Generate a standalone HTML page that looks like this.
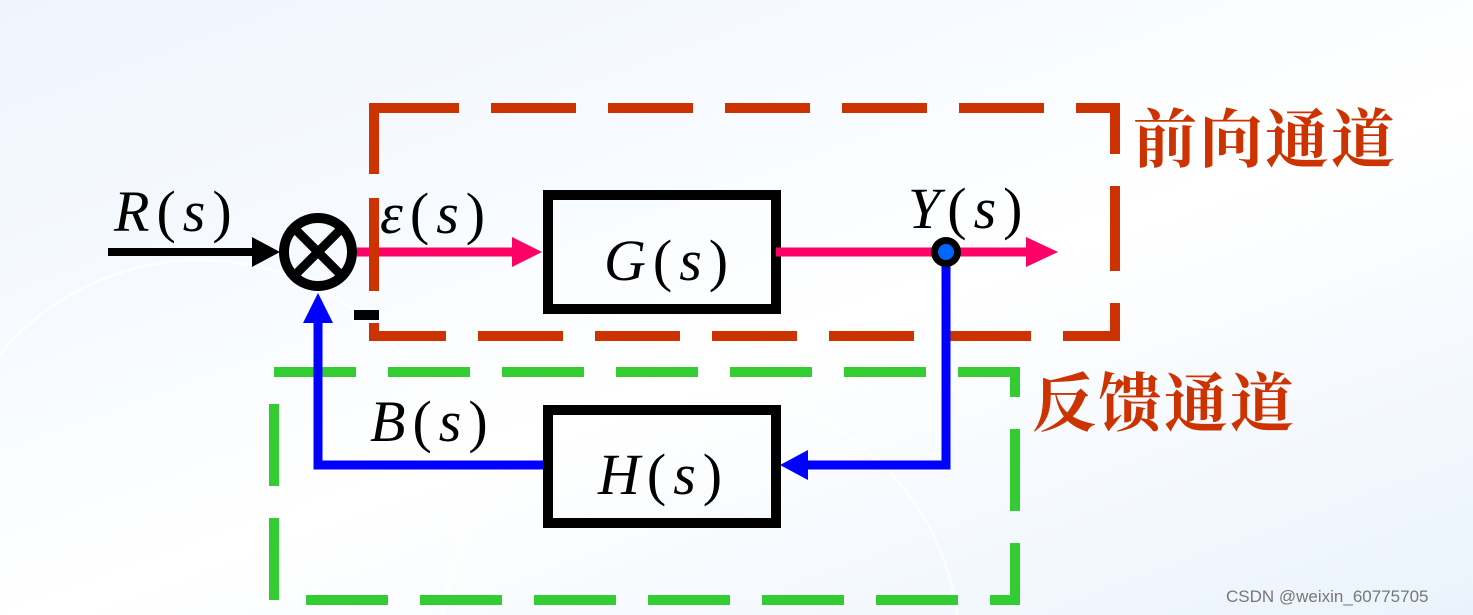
<!DOCTYPE html>
<html><head><meta charset="utf-8"><style>
html,body{margin:0;padding:0;width:1473px;height:615px;overflow:hidden;}
body{background:linear-gradient(160deg,#eef5fd 0%,#f8fbff 35%,#ffffff 55%,#eaf3fc 100%);position:relative}
svg{position:absolute;left:0;top:0;display:block}
.m{font-family:"Liberation Serif",serif;font-style:italic;font-size:58px;fill:#000;letter-spacing:7px}
.p{font-family:"Liberation Serif",serif;font-style:normal}
.cn{font-family:"Liberation Serif","Noto Serif CJK SC",serif;font-size:64px;fill:#cc3300;font-weight:bold;letter-spacing:2px}
</style></head><body>
<svg width="1473" height="615" viewBox="0 0 1473 615">
<g fill="none" stroke="#ffffff" stroke-width="3" opacity="0.7">
<circle cx="200" cy="520" r="260"/>
<circle cx="700" cy="650" r="260"/>
</g>
<rect x="374" y="108" width="741" height="228" fill="none" stroke="#cc3300" stroke-width="10" stroke-dasharray="85 32"/>
<rect x="274" y="372" width="741" height="228" fill="none" stroke="#33cc33" stroke-width="10" stroke-dasharray="82 32"/>
<line x1="108" y1="252" x2="255" y2="252" stroke="#000" stroke-width="8"/>
<polygon points="252,237 280,252 252,267" fill="#000"/>
<circle cx="318" cy="252" r="34" fill="none" stroke="#000" stroke-width="10"/>
<line x1="296" y1="230" x2="340" y2="274" stroke="#000" stroke-width="9"/>
<line x1="340" y1="230" x2="296" y2="274" stroke="#000" stroke-width="9"/>
<rect x="354" y="310" width="25" height="10" fill="#000"/>
<line x1="357" y1="252" x2="515" y2="252" stroke="#ff0066" stroke-width="9"/>
<polygon points="512,237 542,252 512,267" fill="#ff0066"/>
<rect x="548" y="195" width="228" height="114" fill="none" stroke="#000" stroke-width="10"/>
<line x1="776" y1="252" x2="1030" y2="252" stroke="#ff0066" stroke-width="9"/>
<polygon points="1026,237 1058,252 1026,267" fill="#ff0066"/>
<polyline points="946,252 946,465 805,465" fill="none" stroke="#0000ff" stroke-width="9"/>
<polygon points="808,450 780,465 808,480" fill="#0000ff"/>
<polyline points="543,465 318,465 318,320" fill="none" stroke="#0000ff" stroke-width="9"/>
<polygon points="303,323 318,293 333,323" fill="#0000ff"/>
<line x1="374" y1="198" x2="374" y2="282" stroke="#cc3300" stroke-width="10"/>
<circle cx="946" cy="252" r="15" fill="#000"/>
<circle cx="946" cy="252" r="8" fill="#0066ff"/>
<rect x="548" y="410" width="228" height="113" fill="none" stroke="#000" stroke-width="10"/>
<text x="114" y="231" class="m">R<tspan class="p">(</tspan>s<tspan class="p">)</tspan></text>
<text x="380" y="233" class="m">ε<tspan class="p">(</tspan>s<tspan class="p">)</tspan></text>
<text x="604" y="280" class="m">G<tspan class="p">(</tspan>s<tspan class="p">)</tspan></text>
<text x="908" y="228" class="m">Y<tspan class="p">(</tspan>s<tspan class="p">)</tspan></text>
<text x="370" y="441" class="m">B<tspan class="p">(</tspan>s<tspan class="p">)</tspan></text>
<text x="598" y="494" class="m">H<tspan class="p">(</tspan>s<tspan class="p">)</tspan></text>
<text x="1133" y="162" class="cn">前向通道</text>
<text x="1032" y="426" class="cn">反馈通道</text>
<text x="1226" y="602" style="font-family:'Liberation Sans',sans-serif;font-size:17px;fill:#777">CSDN @weixin_60775705</text>
</svg>
</body></html>
